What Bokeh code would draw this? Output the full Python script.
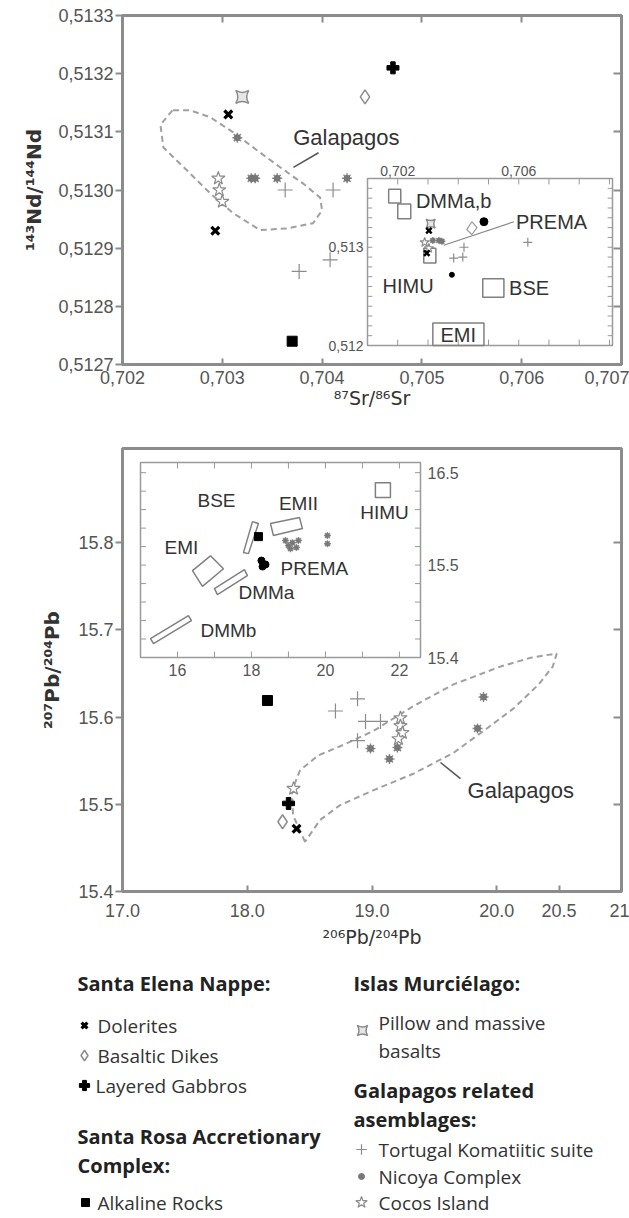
import math
from bokeh.plotting import figure
from bokeh.layouts import column
from bokeh.models import Range1d, LinearAxis, FixedTicker, CustomJSTickFormatter, Title
from bokeh.core.properties import value
from bokeh.embed import file_html
from bokeh.resources import INLINE

GRAY = "#8c8c8c"
TXT = "#333333"
TICK_TXT = "#555555"
FONT = "Liberation Sans"
SUPFONT = "DejaVu Sans"
LFONT = "Open Sans"

# ================= Panel A: 87Sr/86Sr vs 143Nd/144Nd =================
a_xr = (0.702, 0.707)
a_yr = (0.5127, 0.5133)
a_xticks = [0.702, 0.703, 0.704, 0.705, 0.706, 0.707]
a_yticks = [0.5127, 0.5128, 0.5129, 0.5130, 0.5131, 0.5132, 0.5133]

a_dolerite_sr = [0.70306, 0.70293]
a_dolerite_nd = [0.51313, 0.51293]
a_dike_sr = [0.70443]
a_dike_nd = [0.51316]
a_gabbro_sr = [0.70471]
a_gabbro_nd = [0.51321]
a_alkaline_sr = [0.70370]
a_alkaline_nd = [0.51274]
a_pillow_sr = [0.70320]
a_pillow_nd = [0.51316]
a_tortugal_sr = [0.70363, 0.70411, 0.70377, 0.70408]
a_tortugal_nd = [0.51300, 0.51300, 0.51286, 0.51288]
a_nicoya_sr = [0.70315, 0.70329, 0.70333, 0.70355, 0.70425]
a_nicoya_nd = [0.51309, 0.51302, 0.51302, 0.51302, 0.51302]
a_cocos_sr = [0.70296, 0.70297, 0.70300]
a_cocos_nd = [0.51302, 0.51300, 0.51298]

a_galap_sr = [0.70250, 0.70238, 0.70241, 0.70265, 0.70288, 0.70311, 0.70338, 0.70365,
              0.70391, 0.70400, 0.70398, 0.70381, 0.70358, 0.70335, 0.70311, 0.70288, 0.70268]
a_galap_nd = [0.513137, 0.513112, 0.513073, 0.513033, 0.512994, 0.512960, 0.512931, 0.512934,
              0.512943, 0.512965, 0.512987, 0.513011, 0.513039, 0.513068, 0.513099, 0.513125, 0.513137]
a_galap_label = "Galapagos"
a_galap_label_sr = 0.70371
a_galap_label_nd = 0.51309
a_leader_sr = [0.703713, 0.703964]
a_leader_nd = [0.513039, 0.513064]

# inset A (schematic Sr-Nd)
ia_xr = (0.7010, 0.7091)
ia_yr = (0.5120, 0.5137)
ia_xticks = [0.702, 0.703, 0.704, 0.705, 0.706, 0.707, 0.708, 0.709]
ia_yticks = [0.5121, 0.5122, 0.5123, 0.5124, 0.5125, 0.5126, 0.5127, 0.5128,
             0.5129, 0.5130, 0.5131, 0.5132, 0.5133, 0.5134, 0.5135, 0.5136]
ia_xlabel_vals = [0.702, 0.706]
ia_xlabel_txt = ["0,702", "0,706"]
ia_ylabel_vals = [0.513, 0.512]
ia_ylabel_txt = ["0,513", "0,512"]
ia_box_left = [0.70170, 0.70200, 0.70286, 0.70481, 0.70316]
ia_box_right = [0.70210, 0.70243, 0.70326, 0.70551, 0.70485]
ia_box_bottom = [0.51345, 0.51329, 0.51284, 0.51249, 0.51200]
ia_box_top = [0.51359, 0.51344, 0.51299, 0.51268, 0.51223]
ia_prema_x = [0.70428, 0.70445, 0.70462, 0.70445]
ia_prema_y = [0.51318, 0.51326, 0.51320, 0.51313]
ia_prema_line_x = [0.70352, 0.70584]
ia_prema_line_y = [0.51302, 0.51326]
ia_label_txt = ["DMMa,b", "PREMA", "HIMU", "BSE", "EMI"]
ia_label_x = [0.70260, 0.70591, 0.70150, 0.70568, 0.70400]
ia_label_y = [0.51347, 0.51326, 0.51261, 0.51259, 0.51211]
ia_label_align = ["left", "left", "left", "left", "center"]
ia_dolerite_x = [0.70303, 0.70296]
ia_dolerite_y = [0.51317, 0.51294]
ia_gabbro_x = [0.70485]
ia_gabbro_y = [0.51326]
ia_alk_x = [0.70379]
ia_alk_y = [0.51272]
ia_tortugal_x = [0.70630, 0.70385, 0.70419, 0.70415]
ia_tortugal_y = [0.51305, 0.51289, 0.51300, 0.51290]
ia_nicoya_x = [0.70316, 0.70336, 0.70346]
ia_nicoya_y = [0.51307, 0.51307, 0.51306]
ia_cocos_x = [0.70289, 0.70303]
ia_cocos_y = [0.51305, 0.51299]
ia_pillow_x = [0.70309]
ia_pillow_y = [0.51324]

# ================= Panel B: 206Pb/204Pb vs 207Pb/204Pb =================
b_xr = (17.0, 21.0)
b_yr = (15.4, 15.908)
b_xticks = [17.0, 18.0, 19.0, 20.0, 20.5, 21.0]
b_yticks = [15.4, 15.5, 15.6, 15.7, 15.8]

b_dolerite_pb6 = [18.395]
b_dolerite_pb7 = [15.472]
b_dike_pb6 = [18.283]
b_dike_pb7 = [15.480]
b_gabbro_pb6 = [18.331]
b_gabbro_pb7 = [15.501]
b_alkaline_pb6 = [18.162]
b_alkaline_pb7 = [15.619]
b_tortugal_pb6 = [18.884, 18.707, 18.948, 19.068, 18.884]
b_tortugal_pb7 = [15.621, 15.607, 15.595, 15.595, 15.573]
b_nicoya_pb6 = [18.988, 19.140, 19.204, 19.894, 19.846]
b_nicoya_pb7 = [15.564, 15.552, 15.565, 15.623, 15.587]
b_cocos_pb6 = [19.228, 19.228, 19.244, 19.212, 18.371]
b_cocos_pb7 = [15.599, 15.590, 15.582, 15.575, 15.518]

b_galap_pb6 = [18.463, 18.367, 18.359, 18.423, 18.568, 18.785, 19.010, 19.331, 19.653, 20.031,
               20.272, 20.481, 20.449, 20.336, 20.135, 19.926, 19.653, 19.331, 19.010, 18.744, 18.584]
b_galap_pb7 = [15.457, 15.4875, 15.516, 15.539, 15.556, 15.569, 15.584, 15.6125, 15.6375, 15.658,
               15.668, 15.673, 15.658, 15.6375, 15.610, 15.5875, 15.559, 15.535, 15.516, 15.499, 15.482]
b_galap_label = "Galapagos"
b_galap_label_pb6 = 19.766
b_galap_label_pb7 = 15.5158
b_leader_pb6 = [19.549, 19.709]
b_leader_pb7 = [15.5479, 15.5295]

# inset B (schematic Pb-Pb)
ib_xr = (15.0, 22.57)
ib_yr = (15.4, 15.611)
ib_xticks = [16, 17, 18, 19, 20, 21, 22]
ib_yticks = [15.42, 15.44, 15.46, 15.48, 15.50, 15.52, 15.54, 15.56, 15.58, 15.60]
ib_xlabel_vals = [16, 18, 20, 22]
ib_xlabel_txt = ["16", "18", "20", "22"]
ib_ylabel_vals = [15.6, 15.5, 15.4]
ib_ylabel_txt = ["16.5", "15.5", "15.4"]
ib_fields_x = [
    [16.405, 16.892, 17.243, 16.676],          # EMI
    [17.000, 17.810, 17.890, 17.080],          # DMMa
    [15.270, 16.297, 16.378, 15.351],          # DMMb
    [17.784, 18.027, 18.189, 17.919],          # narrow bar
    [18.514, 19.300, 19.378, 18.595],          # EMII
    [21.350, 21.757, 21.757, 21.350],          # HIMU
]
ib_fields_y = [
    [15.494, 15.510, 15.496, 15.477],
    [15.4746, 15.4951, 15.4886, 15.4681],
    [15.4205, 15.4454, 15.4400, 15.4151],
    [15.5135, 15.5470, 15.5449, 15.5124],
    [15.5449, 15.5514, 15.5395, 15.5319],
    [15.5730, 15.5730, 15.5892, 15.5892],
]
ib_label_txt = ["BSE", "EMII", "HIMU", "EMI", "DMMa", "DMMb", "PREMA"]
ib_label_x = [17.054, 19.27, 21.595, 16.108, 18.405, 17.378, 19.70]
ib_label_y = [15.5697, 15.5665, 15.5568, 15.5189, 15.4703, 15.4292, 15.4962]
ib_alk_x = [18.19]
ib_alk_y = [15.5308]
ib_prema_pts_x = [18.27, 18.38, 18.30]
ib_prema_pts_y = [15.5049, 15.5006, 15.4984]
ib_gray_x = [18.919, 19.108, 19.270, 19.054, 19.216, 19.000, 20.054, 20.054]
ib_gray_y = [15.5265, 15.5243, 15.5265, 15.5178, 15.5189, 15.5211, 15.5319, 15.5232]

# ================= Legend =================
leg_head_txt = ["Santa Elena Nappe:", "Santa Rosa Accretionary", "Complex:",
                "Islas Murciélago:", "Galapagos related", "asemblages:"]
leg_item_txt = ["Dolerites", "Basaltic Dikes", "Layered Gabbros", "Alkaline Rocks",
                "Pillow and massive", "basalts", "Tortugal Komatiitic suite",
                "Nicoya Complex", "Cocos Island"]

# ================= layout constants (pixels) =================
W = 629
A_H, B_H, L_H = 425, 535, 258
A_FR = dict(left=122, right=621, top=15, bottom=364)
B_FR = dict(left=122, right=621, top=23, bottom=466)
A_INSET_PX = dict(left=367, right=612, top=178, bottom=345)
B_INSET_PX = dict(left=140, right=420, top=37, bottom=232)


def px2data(fr, xr, yr, px, py):
    x = xr[0] + (px - fr["left"]) / (fr["right"] - fr["left"]) * (xr[1] - xr[0])
    y = yr[1] - (py - fr["top"]) / (fr["bottom"] - fr["top"]) * (yr[1] - yr[0])
    return x, y


STY = {
    "dolerite": dict(marker="x", size=11, line_color="black", line_width=3.2),
    "dike": dict(marker="diamond", size=14, fill_color="white", line_color=GRAY, line_width=1.5),
    "gabbro": dict(marker="plus", size=12, fill_color="black", line_color="black", line_width=1),
    "alkaline": dict(marker="square", size=10, fill_color="black", line_color="black"),
    "pillow": dict(marker="square_pin", size=13, fill_color="#e6e6e6", line_color=GRAY, line_width=1.5),
    "tortugal": dict(marker="cross", size=15, line_color=GRAY, line_width=1.2),
    "nicoya_dot": dict(marker="circle", size=6, fill_color="#777777", line_color="#777777"),
    "nicoya_ast": dict(marker="asterisk", size=10, line_color=GRAY, line_width=1.5),
    "cocos": dict(marker="star", size=14, fill_color="white", line_color=GRAY, line_width=1.2),
}


def sty(name, k=1.0):
    d = dict(STY[name])
    d["size"] = d["size"] * k
    return d


def base_fig(h, xr, yr, fr):
    p = figure(width=W, height=h, x_range=Range1d(*xr), y_range=Range1d(*yr),
               output_backend="svg", toolbar_location=None,
               min_border_left=fr["left"], min_border_right=W - fr["right"],
               min_border_top=fr["top"], min_border_bottom=h - fr["bottom"])
    p.xgrid.visible = False
    p.ygrid.visible = False
    p.outline_line_color = GRAY
    p.outline_line_width = 3
    p.background_fill_color = "white"
    p.border_fill_color = "white"
    return p


def style_axis(ax, ticks, fmt, tick_in, tick_out, standoff):
    ax.ticker = FixedTicker(ticks=ticks)
    ax.formatter = CustomJSTickFormatter(code=fmt)
    ax.axis_line_color = GRAY
    ax.axis_line_width = 3
    ax.major_tick_line_color = GRAY
    ax.major_tick_line_width = 2
    ax.major_tick_in = tick_in
    ax.major_tick_out = tick_out
    ax.minor_tick_line_color = None
    ax.major_label_text_font = FONT
    ax.major_label_text_font_size = "18px"
    ax.major_label_text_color = TICK_TXT
    ax.major_label_standoff = standoff


def blank_axis(ticks, tick_in):
    ax = LinearAxis(ticker=FixedTicker(ticks=ticks), formatter=CustomJSTickFormatter(code="return ''"),
                    major_label_text_font_size="1px",
                    major_tick_in=tick_in, major_tick_out=0, major_label_standoff=0,
                    axis_line_color=GRAY, axis_line_width=3, major_tick_line_color=GRAY,
                    major_tick_line_width=2, minor_tick_line_color=None)
    return ax


def y_title(p, text, offset, standoff):
    p.add_layout(Title(text=text, align="center", offset=offset, text_font=SUPFONT,
                       text_font_size="20px", text_font_style="bold", text_color=TXT,
                       standoff=standoff), "left")


def inset_api(p, fr, xr, yr, ipx, ixr, iyr):
    x0, y1 = px2data(fr, xr, yr, ipx["left"], ipx["top"])
    x1, y0 = px2data(fr, xr, yr, ipx["right"], ipx["bottom"])
    return p.subplot(x_source=Range1d(*ixr), y_source=Range1d(*iyr),
                     x_target=Range1d(x0, x1), y_target=Range1d(y0, y1))


def inset_frame(g, ixr, iyr, xticks, yticks, tlx, tly):
    g.quad(left=[ixr[0]], right=[ixr[1]], bottom=[iyr[0]], top=[iyr[1]],
           fill_color="white", line_color="#9a9a9a", line_width=1.5)
    n = len(xticks)
    for yb, sgn in ((iyr[0], 1), (iyr[1], -1)):
        g.segment(x0=xticks, y0=[yb] * n, x1=xticks, y1=[yb + sgn * tly] * n,
                  line_color="#9a9a9a", line_width=1)
    m = len(yticks)
    for xb, sgn in ((ixr[0], 1), (ixr[1], -1)):
        g.segment(x0=[xb] * m, y0=yticks, x1=[xb + sgn * tlx] * m, y1=yticks,
                  line_color="#9a9a9a", line_width=1)


def x_title(ax, text, standoff):
    ax.axis_label = text
    ax.axis_label_text_font = SUPFONT
    ax.axis_label_text_font_size = "19px"
    ax.axis_label_text_font_style = "normal"
    ax.axis_label_text_color = TXT
    ax.axis_label_standoff = standoff


# ------------------------------------------------------------------ Panel A
pa = base_fig(A_H, a_xr, a_yr, A_FR)
style_axis(pa.xaxis[0], a_xticks, "return tick.toFixed(3).replace('.', ',')", 6, 0, 6)
style_axis(pa.yaxis[0], a_yticks, "return tick.toFixed(4).replace('.', ',')", 0, 7, 2)
x_title(pa.xaxis[0], "⁸⁷Sr/⁸⁶Sr", 0)
pa.add_layout(blank_axis(a_xticks, 7), "above")
pa.add_layout(blank_axis(a_yticks, 8), "right")
y_title(pa, "¹⁴³Nd/¹⁴⁴Nd", 30, 19)

pa.patch(a_galap_sr, a_galap_nd, fill_color=None, line_color="#a0a0a0", line_width=2, line_dash="6 4")
pa.line(a_leader_sr, a_leader_nd, line_color="#555555", line_width=1.5)
pa.text([a_galap_label_sr], [a_galap_label_nd], text=[a_galap_label], text_font=value(FONT),
        text_font_size="22px", text_color=TXT, text_baseline="middle", text_align="left")

pa.scatter(a_tortugal_sr, a_tortugal_nd, **sty("tortugal"))
pa.scatter(a_nicoya_sr, a_nicoya_nd, **sty("nicoya_ast"))
pa.scatter(a_nicoya_sr, a_nicoya_nd, **sty("nicoya_dot"))
pa.scatter(a_cocos_sr, a_cocos_nd, **sty("cocos"))
pa.scatter(a_pillow_sr, a_pillow_nd, **sty("pillow"))
pa.scatter(a_dike_sr, a_dike_nd, **sty("dike"))
pa.scatter(a_dolerite_sr, a_dolerite_nd, **sty("dolerite"))
pa.scatter(a_gabbro_sr, a_gabbro_nd, **sty("gabbro"))
pa.scatter(a_alkaline_sr, a_alkaline_nd, **sty("alkaline"))

ia = inset_api(pa, A_FR, a_xr, a_yr, A_INSET_PX, ia_xr, ia_yr)
inset_frame(ia, ia_xr, ia_yr, ia_xticks, ia_yticks, 0.00016, 0.00006)
ia.text(ia_xlabel_vals, [ia_yr[1]] * 2, text=ia_xlabel_txt, y_offset=-3, text_font=value(FONT),
        text_font_size="14px", text_color=TICK_TXT, text_align="center", text_baseline="bottom")
ia.text([ia_xr[0]] * 2, ia_ylabel_vals, text=ia_ylabel_txt, x_offset=-4, text_font=value(FONT),
        text_font_size="14px", text_color=TICK_TXT, text_align="right", text_baseline="middle")
ia.quad(left=ia_box_left, right=ia_box_right, bottom=ia_box_bottom, top=ia_box_top,
        fill_color=None, line_color="#808080", line_width=1.5)
ia.patch(ia_prema_x, ia_prema_y, fill_color=None, line_color="#999999", line_width=1.2)
ia.line(ia_prema_line_x, ia_prema_line_y, line_color="#888888", line_width=1.2)
ia.scatter(ia_tortugal_x, ia_tortugal_y, **sty("tortugal", 0.6))
ia.scatter(ia_nicoya_x, ia_nicoya_y, **sty("nicoya_ast", 0.7))
ia.scatter(ia_nicoya_x, ia_nicoya_y, **sty("nicoya_dot", 0.7))
ia.scatter(ia_cocos_x, ia_cocos_y, **sty("cocos", 0.7))
ia.scatter(ia_pillow_x, ia_pillow_y, **sty("pillow", 0.7))
ia.scatter(ia_dolerite_x, ia_dolerite_y, **dict(sty("dolerite", 0.7), line_width=2.5))
ia.scatter(ia_gabbro_x, ia_gabbro_y, marker="circle", size=8, fill_color="black", line_color="black")
ia.scatter(ia_alk_x, ia_alk_y, marker="circle", size=5, fill_color="black", line_color="black")
for t, xx, yy, al in zip(ia_label_txt, ia_label_x, ia_label_y, ia_label_align):
    ia.text([xx], [yy], text=[t], text_font=value(FONT), text_font_size="20px",
            text_color=TXT, text_align=al, text_baseline="middle")

# ------------------------------------------------------------------ Panel B
pb = base_fig(B_H, b_xr, b_yr, B_FR)
style_axis(pb.xaxis[0], b_xticks, "return tick == 21 ? '21' : tick.toFixed(1)", 6, 0, 12)
style_axis(pb.yaxis[0], b_yticks, "return tick.toFixed(1)", 0, 7, 2)
x_title(pb.xaxis[0], "²⁰⁶Pb/²⁰⁴Pb", 6)
pb.add_layout(blank_axis([17.0, 18.0, 19.0, 20.0], 0), "above")
pb.add_layout(blank_axis([15.5, 15.6, 15.7, 15.8], 8), "right")
y_title(pb, "²⁰⁷Pb/²⁰⁴Pb", -38, 23)

pb.patch(b_galap_pb6, b_galap_pb7, fill_color=None, line_color="#a0a0a0", line_width=2, line_dash="6 4")
pb.line(b_leader_pb6, b_leader_pb7, line_color="#555555", line_width=1.5)
pb.text([b_galap_label_pb6], [b_galap_label_pb7], text=[b_galap_label], text_font=value(FONT),
        text_font_size="22px", text_color=TXT, text_baseline="middle", text_align="left")

pb.scatter(b_tortugal_pb6, b_tortugal_pb7, **sty("tortugal"))
pb.scatter(b_nicoya_pb6, b_nicoya_pb7, **sty("nicoya_ast"))
pb.scatter(b_nicoya_pb6, b_nicoya_pb7, **sty("nicoya_dot"))
pb.scatter(b_cocos_pb6, b_cocos_pb7, **sty("cocos"))
pb.scatter(b_dike_pb6, b_dike_pb7, **sty("dike"))
pb.scatter(b_dolerite_pb6, b_dolerite_pb7, **sty("dolerite"))
pb.scatter(b_gabbro_pb6, b_gabbro_pb7, **sty("gabbro"))
pb.scatter(b_alkaline_pb6, b_alkaline_pb7, **sty("alkaline"))

ib = inset_api(pb, B_FR, b_xr, b_yr, B_INSET_PX, ib_xr, ib_yr)
inset_frame(ib, ib_xr, ib_yr, ib_xticks, ib_yticks, 0.15, 0.0065)
ib.text(ib_xlabel_vals, [ib_yr[0]] * 4, text=ib_xlabel_txt, y_offset=6, text_font=value(FONT),
        text_font_size="16px", text_color=TICK_TXT, text_align="center", text_baseline="top")
ib.text([ib_xr[1]] * 3, ib_ylabel_vals, text=ib_ylabel_txt, x_offset=7, text_font=value(FONT),
        text_font_size="16px", text_color=TICK_TXT, text_align="left", text_baseline="middle")
ib.patches(ib_fields_x, ib_fields_y, fill_color=None, line_color="#808080", line_width=1.5)
ib.scatter(ib_gray_x, ib_gray_y, **sty("nicoya_ast", 0.7))
ib.scatter(ib_gray_x, ib_gray_y, **sty("nicoya_dot", 0.6))
ib.scatter(ib_alk_x, ib_alk_y, **sty("alkaline", 0.8))
ib.scatter(ib_prema_pts_x, ib_prema_pts_y, marker="circle", size=7, fill_color="black", line_color="black")
ib.text(ib_label_x, ib_label_y, text=ib_label_txt, text_font=value(FONT), text_font_size="19px",
        text_color=TXT, text_align="center", text_baseline="middle")

# ------------------------------------------------------------------ Legend
lg = figure(width=W, height=L_H, x_range=Range1d(0, W), y_range=Range1d(L_H, 0),
            output_backend="svg", toolbar_location=None, x_axis_location=None, y_axis_location=None,
            min_border=0, min_border_left=0, min_border_right=0, min_border_top=0, min_border_bottom=0)
lg.frame_align = False
lg.xgrid.visible = False
lg.ygrid.visible = False
lg.outline_line_color = None
lg.border_fill_color = "white"

lg.text([77, 77, 77, 353, 353, 353], [23, 176, 205, 23, 130, 159], text=leg_head_txt,
        text_font=value(LFONT), text_font_size="20px", text_font_style="bold",
        text_color="#222222", text_baseline="middle")
lg.text([97, 97, 95, 97, 378, 378, 378, 378, 378], [65, 95, 125, 242, 62, 90, 189, 216, 242],
        text=leg_item_txt, text_font=value(LFONT), text_font_size="19px",
        text_color="#333333", text_baseline="middle")
lg.scatter([84], [65], **sty("dolerite", 0.75))
lg.scatter([84], [95], **sty("dike", 0.75))
lg.scatter([84], [125], **sty("gabbro", 0.85))
lg.scatter([85], [242], **sty("alkaline", 0.8))
lg.scatter([362], [70], **sty("pillow", 0.8))
lg.scatter([361], [189], **sty("tortugal", 0.7))
lg.scatter([361], [216], **sty("nicoya_dot", 1.0))
lg.scatter([361], [242], **sty("cocos", 0.85))

layout = column(pa, pb, lg, spacing=0)
open("out.html", "w").write(file_html(layout, INLINE))
